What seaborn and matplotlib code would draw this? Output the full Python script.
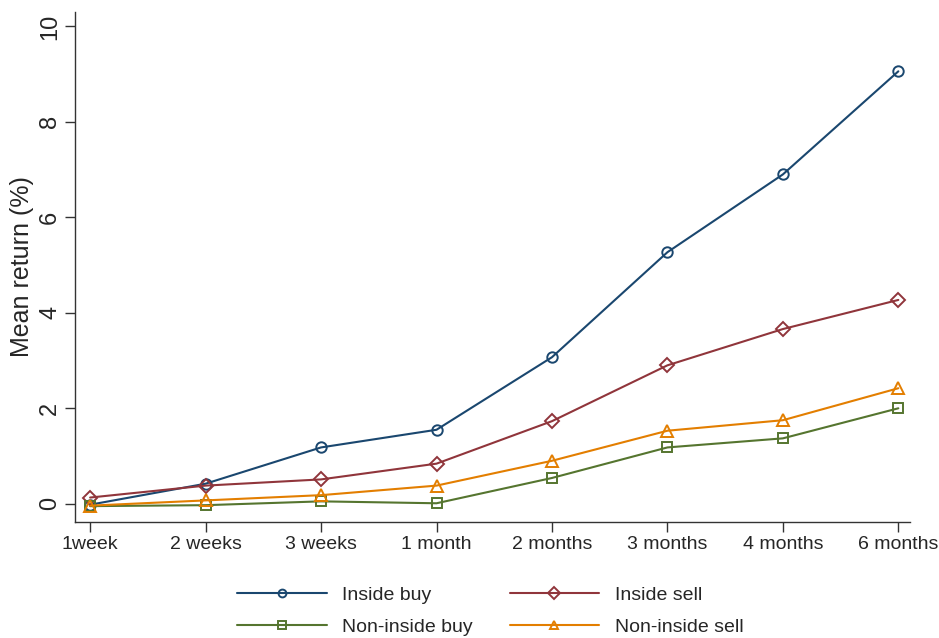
import matplotlib
matplotlib.use("Agg")
import matplotlib.pyplot as plt
import seaborn as sns
import pandas as pd

# ── data ─────────────────────────────────────────────────────────────────────
horizons = ["1week", "2 weeks", "3 weeks", "1 month",
            "2 months", "3 months", "4 months", "6 months"]
inside_buy      = [-0.02, 0.42, 1.18, 1.55, 3.07, 5.27, 6.90, 9.06]
inside_sell     = [0.13, 0.38, 0.51, 0.84, 1.73, 2.90, 3.66, 4.27]
non_inside_buy  = [-0.05, -0.03, 0.05, 0.01, 0.54, 1.18, 1.37, 2.00]
non_inside_sell = [-0.04, 0.07, 0.18, 0.38, 0.90, 1.53, 1.75, 2.42]

series_names = ["Inside buy", "Inside sell", "Non-inside buy", "Non-inside sell"]
series_vals  = [inside_buy, inside_sell, non_inside_buy, non_inside_sell]

rows = []
for name, vals in zip(series_names, series_vals):
    for i, (h, v) in enumerate(zip(horizons, vals)):
        rows.append({"pos": i, "horizon": h, "series": name, "ret": v})
df = pd.DataFrame(rows)

# Stata s2color-like palette
colors  = {"Inside buy": "#1a476f", "Inside sell": "#90353b",
           "Non-inside buy": "#55752f", "Non-inside sell": "#e37e00"}
markers = {"Inside buy": "o", "Inside sell": "D",
           "Non-inside buy": "s", "Non-inside sell": "^"}
msizes  = {"Inside buy": 7.5, "Inside sell": 7.5,
           "Non-inside buy": 7, "Non-inside sell": 8.5}

sns.set_style("ticks")
plt.rcParams["font.family"] = ["Liberation Sans", "DejaVu Sans"]

fig = plt.figure(figsize=(9.39, 6.38), dpi=100)
ax = fig.add_axes([0.080, 0.182, 0.889, 0.799])

for name in series_names:
    sub = df[df["series"] == name]
    sns.lineplot(data=sub, x="pos", y="ret", ax=ax, color=colors[name],
                 marker=markers[name], markersize=msizes[name],
                 markerfacecolor="none", markeredgecolor=colors[name],
                 markeredgewidth=1.4, linewidth=1.5, label=name)

ax.set_xlim(-0.13, 7.1)
ax.set_ylim(-0.38, 10.3)
ax.set_xticks(range(len(horizons)))
ax.set_xticklabels(horizons, fontsize=14)
ax.set_yticks([0, 2, 4, 6, 8, 10])
ax.set_yticklabels(["0", "2", "4", "6", "8", "10"], fontsize=17,
                   rotation=90, va="center")
ax.set_xlabel("")
ax.set_ylabel("Mean return (%)", fontsize=18, labelpad=4)
ax.tick_params(axis="both", length=7, width=1, color="#333333", direction="out")
ax.tick_params(axis="y", pad=3)
for side in ("top", "right"):
    ax.spines[side].set_visible(False)
for side in ("left", "bottom"):
    ax.spines[side].set_color("#333333")
    ax.spines[side].set_linewidth(1.0)

handles, labels = ax.get_legend_handles_labels()
ax.get_legend().remove()
order = [0, 2, 1, 3]
fig.legend([handles[i] for i in order], [labels[i] for i in order],
           loc="upper center", bbox_to_anchor=(0.522, 0.108), ncol=2,
           frameon=False, fontsize=14, handlelength=4.6, handletextpad=0.8,
           columnspacing=1.9, labelspacing=0.72, markerscale=0.75)

fig.savefig("out.png", dpi=100)
